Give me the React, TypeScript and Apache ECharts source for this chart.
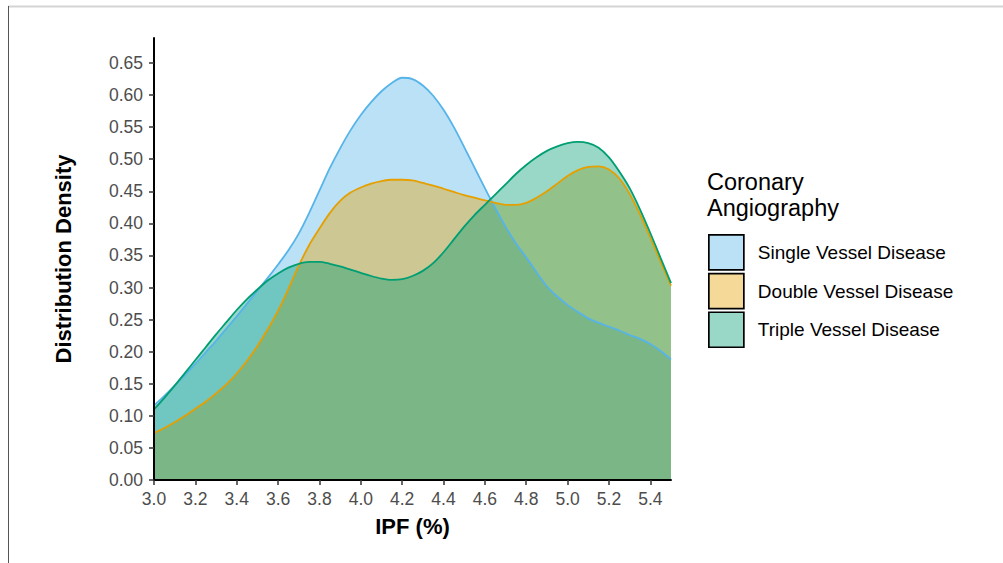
import React, { useEffect, useRef } from "react";
import * as echarts from "echarts";

const ipf = [
  3.0, 3.05, 3.1, 3.15, 3.2, 3.25, 3.3, 3.35, 3.4, 3.45, 3.5, 3.55, 3.6, 3.65, 3.7, 3.75, 3.8, 3.85, 3.9, 3.95,
  4.0, 4.05, 4.1, 4.15, 4.2, 4.25, 4.3, 4.35, 4.4, 4.45, 4.5, 4.55, 4.6, 4.65, 4.7, 4.75, 4.8, 4.85, 4.9, 4.95,
  5.0, 5.05, 5.1, 5.15, 5.2, 5.25, 5.3, 5.35, 5.4, 5.45, 5.5,
];
const singleVessel = [
  0.116, 0.131, 0.147, 0.164, 0.181, 0.199, 0.217, 0.236, 0.255, 0.275, 0.295, 0.315, 0.336, 0.358, 0.384, 0.416, 0.451, 0.486, 0.517, 0.545,
  0.569, 0.589, 0.606, 0.619, 0.627, 0.625, 0.615, 0.599, 0.577, 0.55, 0.519, 0.487, 0.455, 0.424, 0.395, 0.369, 0.347, 0.324, 0.302, 0.286,
  0.273, 0.262, 0.252, 0.245, 0.239, 0.233, 0.226, 0.22, 0.212, 0.201, 0.188,
];
const doubleVessel = [
  0.073, 0.081, 0.09, 0.1, 0.111, 0.122, 0.135, 0.149, 0.166, 0.186, 0.209, 0.235, 0.264, 0.298, 0.334, 0.366, 0.392, 0.416, 0.435, 0.448,
  0.456, 0.462, 0.466, 0.468, 0.468, 0.467, 0.463, 0.459, 0.454, 0.449, 0.444, 0.44, 0.436, 0.432, 0.429, 0.429, 0.432, 0.44, 0.45, 0.462,
  0.474, 0.483, 0.488, 0.489, 0.484, 0.47, 0.446, 0.414, 0.378, 0.34, 0.303,
];
const tripleVessel = [
  0.11, 0.128, 0.147, 0.167, 0.187, 0.207, 0.227, 0.246, 0.265, 0.282, 0.297, 0.311, 0.322, 0.331, 0.337, 0.34, 0.34, 0.337, 0.333, 0.328,
  0.323, 0.318, 0.314, 0.312, 0.313, 0.318, 0.326, 0.338, 0.355, 0.375, 0.395, 0.413, 0.429, 0.445, 0.461, 0.477, 0.491, 0.503, 0.513, 0.52,
  0.525, 0.527, 0.525, 0.518, 0.503, 0.481, 0.455, 0.422, 0.385, 0.346, 0.307,
];
const groupNames = ["Single Vessel Disease", "Double Vessel Disease", "Triple Vessel Disease"];
const xTicks = [3.0, 3.2, 3.4, 3.6, 3.8, 4.0, 4.2, 4.4, 4.6, 4.8, 5.0, 5.2, 5.4];
const yTicks = [0, 0.05, 0.1, 0.15, 0.2, 0.25, 0.3, 0.35, 0.4, 0.45, 0.5, 0.55, 0.6, 0.65];

const lineColors = ["#56B4E9", "#E69F00", "#009E73"];
const fillColors = ["rgba(86,180,233,0.4)", "rgba(230,159,0,0.4)", "rgba(0,158,115,0.4)"];

export default function App() {
  const ref = useRef<HTMLDivElement>(null);
  useEffect(() => {
    if (!ref.current) return;
    const chart = echarts.init(ref.current, null, { renderer: "svg" });
    const ys = [singleVessel, doubleVessel, tripleVessel];
    const font = "Liberation Sans, Arial, Helvetica, sans-serif";
    chart.setOption({
      animation: false,
      backgroundColor: "#ffffff",
      textStyle: { fontFamily: font },
      grid: { left: 154, top: 38, width: 517, height: 442, outerBoundsMode: "none", containLabel: false },
      xAxis: {
        type: "value",
        min: 3.0,
        max: 5.5,
        z: 10,
        name: "IPF (%)",
        nameLocation: "middle",
        nameGap: 35,
        nameTextStyle: { fontSize: 22, fontWeight: "bold", color: "#000", fontFamily: font },
        splitLine: { show: false },
        axisLine: { onZero: false, lineStyle: { color: "#000", width: 2 } },
        axisTick: { show: true, length: 5, lineStyle: { color: "#333", width: 1.5 }, customValues: xTicks },
        axisLabel: {
          color: "#4D4D4D",
          fontSize: 17.5,
          margin: 10,
          fontFamily: font,
          customValues: xTicks,
          formatter: (v: number) => v.toFixed(1),
        },
      },
      yAxis: {
        type: "value",
        min: 0,
        max: 0.689,
        z: 10,
        name: "Distribution Density",
        nameLocation: "middle",
        nameRotate: 90,
        nameGap: 80,
        nameTextStyle: { fontSize: 22, fontWeight: "bold", color: "#000", fontFamily: font },
        splitLine: { show: false },
        axisLine: { show: true, onZero: false, lineStyle: { color: "#000", width: 2 } },
        axisTick: { show: true, length: 5, lineStyle: { color: "#333", width: 1.5 }, customValues: yTicks },
        axisLabel: {
          color: "#4D4D4D",
          fontSize: 17.5,
          margin: 11,
          fontFamily: font,
          customValues: yTicks,
          formatter: (v: number) => v.toFixed(2),
        },
      },
      legend: {
        orient: "vertical",
        left: 708,
        top: 234,
        padding: 0,
        itemWidth: 35,
        itemHeight: 35,
        itemGap: 2,
        icon: "rect",
        selectedMode: false,
        textStyle: { fontSize: 19, color: "#000", fontFamily: font, padding: [0, 0, 0, 9] },
        data: groupNames.map((n, i) => ({
          name: n,
          itemStyle: { color: fillColors[i], borderColor: "#000", borderWidth: 1.7 },
        })),
      },
      graphic: [
        {
          type: "text",
          left: 707,
          top: 169,
          style: {
            text: "Coronary\nAngiography",
            fontSize: 23.5,
            lineHeight: 26,
            fill: "#000",
            fontFamily: font,
          },
        },
        {
          type: "line",
          shape: { x1: 8, y1: 6.5, x2: 1003, y2: 6.5 },
          style: { stroke: "#D4D4D4", lineWidth: 2 },
        },
        {
          type: "line",
          shape: { x1: 8.5, y1: 6, x2: 8.5, y2: 563 },
          style: { stroke: "#555555", lineWidth: 1 },
        },
      ],
      series: groupNames.map((n, i) => ({
        name: n,
        type: "line",
        smooth: 0.3,
        showSymbol: false,
        symbol: "none",
        data: ipf.map((x, j) => [x, ys[i][j]]),
        lineStyle: { color: lineColors[i], width: 1.8 },
        itemStyle: { color: lineColors[i] },
        areaStyle: { color: fillColors[i], opacity: 1 },
      })),
    });
    return () => chart.dispose();
  }, []);
  return <div ref={ref} style={{ position: "fixed", left: 0, top: 0, width: 1003, height: 563 }} />;
}
